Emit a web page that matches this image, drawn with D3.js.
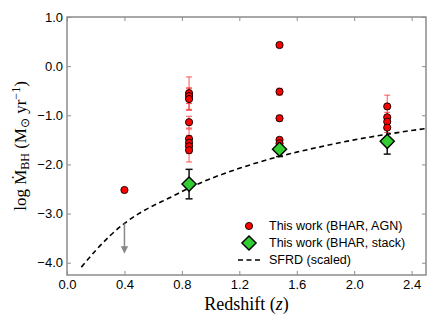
<!DOCTYPE html>
<html>
<head>
<meta charset="utf-8">
<script src="https://cdn.jsdelivr.net/npm/d3@7"></script>
<style>
  body { margin: 0; background: #fff; }
  svg { display: block; }
</style>
</head>
<body>
<div id="chart"></div>
<script>
// individual AGN (red points)
const zAGN = [0.40, 0.85, 0.85, 0.85, 0.85, 0.85, 0.85, 0.85, 0.85,
    1.48, 1.48, 1.48, 1.48, 1.48, 2.23, 2.23, 2.23, 2.23];
const logAGN = [-2.52, -0.55, -0.61, -0.67, -1.14, -1.48, -1.56, -1.63, -1.71,
    0.43, -0.52, -1.06, -1.50, -1.57, -0.82, -1.04, -1.13, -1.25];
const errAGN = [0, 0.33, 0.15, 0.23, 0.12, 0.20, 0.15, 0.15, 0.24,
    0.05, 0.07, 0.06, 0.05, 0.05, 0.23, 0.10, 0.10, 0.10];

// stacked (green diamonds)
const zStack = [0.85, 1.48, 2.23];
const logStack = [-2.40, -1.69, -1.53];
const errStack = [0.30, 0.15, 0.26];

// SFRD (scaled), dashed curve
const zSFRD = [0.1, 0.2, 0.3, 0.4, 0.5, 0.6, 0.7, 0.85, 1.0, 1.2, 1.4, 1.6, 1.8, 2.0, 2.2, 2.4, 2.5];
const logSFRD = [-4.09, -3.75, -3.45, -3.20, -3.00, -2.84, -2.70, -2.48, -2.29, -2.08,
    -1.90, -1.75, -1.62, -1.50, -1.40, -1.31, -1.27];

// upper limit arrow
const zLimit = [0.40];
const limitFrom = [-3.20];
const limitTo = [-3.80];

const xTicks = [0.0, 0.4, 0.8, 1.2, 1.6, 2.0, 2.4];
const yTicks = [1.0, 0.0, -1.0, -2.0, -3.0, -4.0];

const legendLabels = ['This work (BHAR, AGN)', 'This work (BHAR, stack)', 'SFRD (scaled)'];

const width = 436, height = 327;
const margin = { top: 17, right: 10, bottom: 52, left: 67 };
const plotW = width - margin.left - margin.right;
const plotH = height - margin.top - margin.bottom;
const frameColor = '#8c8c8c';

const svg = d3.select('#chart').append('svg')
    .attr('width', width)
    .attr('height', height);

const g = svg.append('g')
    .attr('transform', 'translate(' + margin.left + ',' + margin.top + ')');

const x = d3.scaleLinear().domain([0, 2.5]).range([0, plotW]);
const y = d3.scaleLinear().domain([-4.25, 1.0]).range([plotH, 0]);

const fmt = d3.format('.1f');

// axes with inward ticks on all four sides
g.append('g')
    .attr('transform', 'translate(0,' + plotH + ')')
    .call(d3.axisBottom(x).tickValues(xTicks).tickFormat(fmt).tickSizeInner(-4).tickSizeOuter(0).tickPadding(5))
    .call(a => a.select('.domain').remove());
g.append('g')
    .call(d3.axisTop(x).tickValues(xTicks).tickFormat('').tickSizeInner(-4).tickSizeOuter(0))
    .call(a => a.select('.domain').remove());
g.append('g')
    .call(d3.axisLeft(y).tickValues(yTicks).tickFormat(fmt).tickSizeInner(-4).tickSizeOuter(0).tickPadding(4))
    .call(a => a.select('.domain').remove());
g.append('g')
    .attr('transform', 'translate(' + plotW + ',0)')
    .call(d3.axisRight(y).tickValues(yTicks).tickFormat('').tickSizeInner(-4).tickSizeOuter(0))
    .call(a => a.select('.domain').remove());

g.selectAll('.tick line').attr('stroke', frameColor);
g.selectAll('.tick text')
    .attr('fill', '#000')
    .style('font-family', '"Liberation Sans", Arial, sans-serif')
    .style('font-size', '13px');

// clip for data
svg.append('clipPath').attr('id', 'clip')
    .append('rect').attr('width', plotW).attr('height', plotH);
const plot = g.append('g').attr('clip-path', 'url(#clip)');

// SFRD dashed
const line = d3.line().x(d => x(d[0])).y(d => y(d[1])).curve(d3.curveMonotoneX);
plot.append('path')
    .datum(zSFRD.map((z, i) => [z, logSFRD[i]]))
    .attr('d', line)
    .attr('fill', 'none')
    .attr('stroke', '#000')
    .attr('stroke-width', 1.6)
    .attr('stroke-dasharray', '5,3.5');

// upper limit arrow
svg.append('defs').append('marker')
    .attr('id', 'arrowhead')
    .attr('viewBox', '0 0 10 10')
    .attr('refX', 5).attr('refY', 5)
    .attr('markerWidth', 5).attr('markerHeight', 5)
    .attr('orient', 'auto')
    .append('path')
    .attr('d', 'M0,0 L10,5 L0,10 z')
    .attr('fill', '#888');
zLimit.forEach((z, i) => {
    plot.append('line')
        .attr('x1', x(z)).attr('x2', x(z))
        .attr('y1', y(limitFrom[i])).attr('y2', y(limitTo[i]) - 3)
        .attr('stroke', '#888')
        .attr('stroke-width', 1.5)
        .attr('marker-end', 'url(#arrowhead)');
});

// red error bars
const agn = zAGN.map((z, i) => ({ z: z, v: logAGN[i], e: errAGN[i] }));
const redBars = plot.selectAll('.rbar').data(agn.filter(d => d.e > 0)).enter().append('g');
redBars.append('line')
    .attr('x1', d => x(d.z)).attr('x2', d => x(d.z))
    .attr('y1', d => y(d.v - d.e)).attr('y2', d => y(d.v + d.e));
redBars.append('line')
    .attr('x1', d => x(d.z) - 3).attr('x2', d => x(d.z) + 3)
    .attr('y1', d => y(d.v + d.e)).attr('y2', d => y(d.v + d.e));
redBars.append('line')
    .attr('x1', d => x(d.z) - 3).attr('x2', d => x(d.z) + 3)
    .attr('y1', d => y(d.v - d.e)).attr('y2', d => y(d.v - d.e));
redBars.selectAll('line').attr('stroke', '#ff2a2a').attr('stroke-width', 1).attr('opacity', 0.8);

// green error bars
const stack = zStack.map((z, i) => ({ z: z, v: logStack[i], e: errStack[i] }));
const greenBars = plot.selectAll('.gbar').data(stack).enter().append('g');
greenBars.append('line')
    .attr('x1', d => x(d.z)).attr('x2', d => x(d.z))
    .attr('y1', d => y(d.v - d.e)).attr('y2', d => y(d.v + d.e));
greenBars.append('line')
    .attr('x1', d => x(d.z) - 3.5).attr('x2', d => x(d.z) + 3.5)
    .attr('y1', d => y(d.v + d.e)).attr('y2', d => y(d.v + d.e));
greenBars.append('line')
    .attr('x1', d => x(d.z) - 3.5).attr('x2', d => x(d.z) + 3.5)
    .attr('y1', d => y(d.v - d.e)).attr('y2', d => y(d.v - d.e));
greenBars.selectAll('line').attr('stroke', '#111').attr('stroke-width', 1.5);

// red points
plot.selectAll('.agn').data(agn).enter().append('circle')
    .attr('cx', d => x(d.z))
    .attr('cy', d => y(d.v))
    .attr('r', 3.6)
    .attr('fill', '#ff0000')
    .attr('stroke', '#000')
    .attr('stroke-width', 0.9);

// green diamonds
const diamond = d3.symbol().type(d3.symbolSquare).size(100);
plot.selectAll('.stk').data(stack).enter().append('path')
    .attr('d', diamond)
    .attr('transform', d => 'translate(' + x(d.z) + ',' + y(d.v) + ') rotate(45)')
    .attr('fill', '#33cc33')
    .attr('stroke', '#000')
    .attr('stroke-width', 1.4);

// frame
g.append('rect')
    .attr('width', plotW).attr('height', plotH)
    .attr('fill', 'none')
    .attr('stroke', frameColor)
    .attr('stroke-width', 1.5);

// legend
const legend = g.append('g').attr('transform', 'translate(182,209)');
legendLabels.forEach((label, i) => {
    const row = legend.append('g').attr('transform', 'translate(0,' + (i * 17) + ')');
    if (i === 0) {
        row.append('circle').attr('cx', 0).attr('cy', 0).attr('r', 3.6)
            .attr('fill', '#ff0000').attr('stroke', '#000').attr('stroke-width', 0.9);
    } else if (i === 1) {
        row.append('path').attr('d', diamond)
            .attr('transform', 'rotate(45)')
            .attr('fill', '#33cc33').attr('stroke', '#000').attr('stroke-width', 1.4);
    } else {
        row.append('line').attr('x1', -11).attr('x2', 11).attr('y1', 0).attr('y2', 0)
            .attr('stroke', '#000').attr('stroke-width', 1.6).attr('stroke-dasharray', '5,3.5');
    }
    row.append('text')
        .attr('x', 20).attr('y', 0)
        .attr('dy', '0.35em')
        .style('font-family', '"Liberation Sans", Arial, sans-serif')
        .style('font-size', '12.5px')
        .text(label);
});

// axis titles
svg.append('text')
    .attr('x', margin.left + plotW / 2)
    .attr('y', 310)
    .attr('text-anchor', 'middle')
    .style('font-family', '"Liberation Serif", "Times New Roman", serif')
    .style('font-size', '18px')
    .html('Redshift (<tspan font-style="italic">z</tspan>)');

const yTitle = svg.append('text')
    .attr('transform', 'translate(26,' + (margin.top + plotH / 2) + ') rotate(-90)')
    .attr('text-anchor', 'middle')
    .style('font-family', '"Liberation Serif", "Times New Roman", serif')
    .style('font-size', '17px');
yTitle.append('tspan').text('log Ṁ');
yTitle.append('tspan').attr('font-size', '12px').attr('dy', 3).text('BH');
yTitle.append('tspan').attr('dy', -3).text(' (M');
yTitle.append('tspan').attr('font-size', '12px').attr('dy', 3).text('⊙');
yTitle.append('tspan').attr('dy', -3).text(' yr');
yTitle.append('tspan').attr('font-size', '12px').attr('dy', -6).text('−1');
yTitle.append('tspan').attr('dy', 6).text(')');
</script>
</body>
</html>
